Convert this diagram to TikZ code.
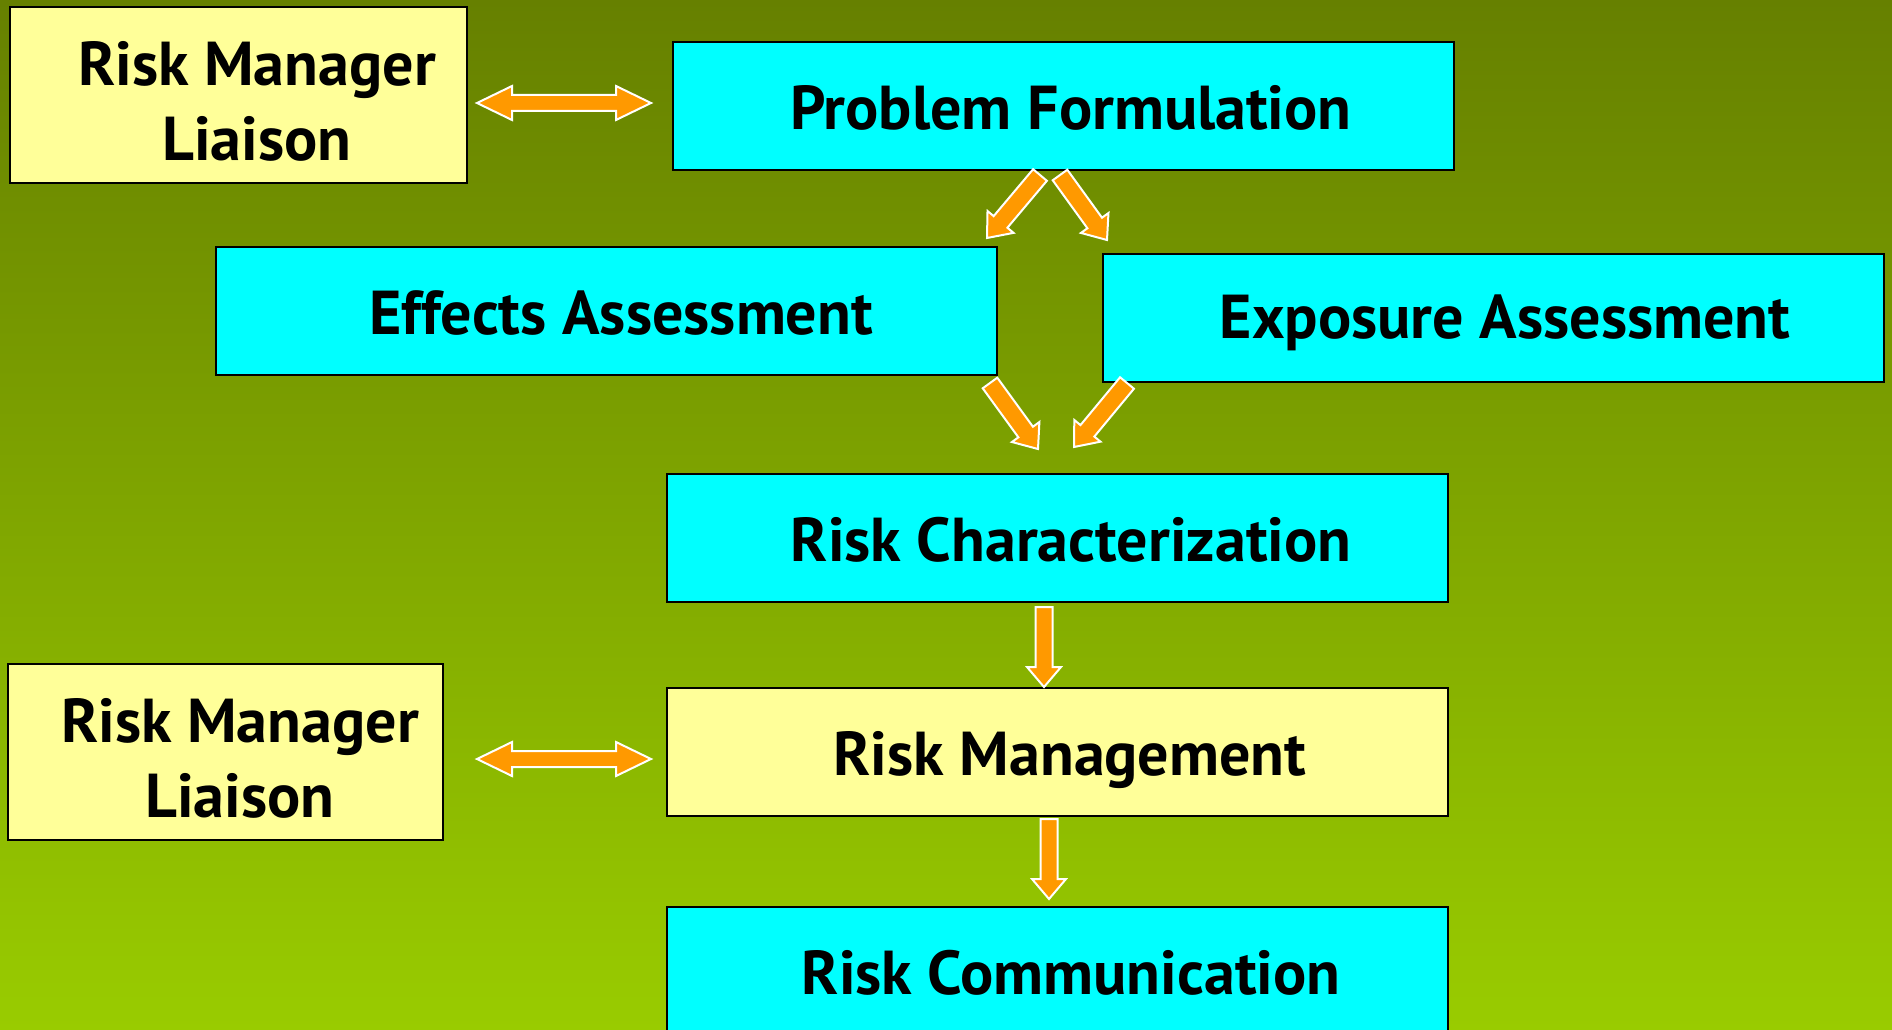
\documentclass[tikz,border=0pt]{standalone}
\usepackage{fontspec}
\setmainfont{PT Sans}
\usetikzlibrary{calc}
\definecolor{bgtop}{RGB}{102,128,0}
\definecolor{bgbot}{RGB}{153,204,0}
\definecolor{boxcyan}{RGB}{0,255,255}
\definecolor{boxyellow}{RGB}{255,255,153}
\definecolor{arroworange}{RGB}{255,153,0}
\tikzset{
  box/.style={draw=black, line width=2pt, inner sep=0pt,
    font=\fontsize{62}{75}\selectfont\bfseries},
  onebox/.style={box, text height=56pt, text depth=10pt,
    minimum width=781pt, minimum height=128pt},
  cbox/.style={onebox, fill=boxcyan},
  ybox/.style={onebox, fill=boxyellow},
  liaisonbox/.style={box, fill=boxyellow, align=center, minimum height=176pt},
  blockarrow/.style={fill=arroworange, draw=white, line width=2pt, line join=miter},
}
\newcommand\singlearr[5]{%
  \coordinate (tmpH) at ($(#2)!#5!(#1)$);
  \draw[blockarrow] ($(#1)!#3!90:(#2)$) -- ($(tmpH)!#3!90:(#2)$) -- ($(tmpH)!#4!90:(#2)$)
    -- (#2) -- ($(tmpH)!#4!-90:(#2)$) -- ($(tmpH)!#3!-90:(#2)$) -- ($(#1)!#3!-90:(#2)$) -- cycle;
}
\newcommand\doublearr[5]{%
  \coordinate (tmpA) at ($(#1)!#5!(#2)$);
  \coordinate (tmpB) at ($(#2)!#5!(#1)$);
  \draw[blockarrow] (#1) -- ($(tmpA)!#4!90:(#2)$) -- ($(tmpA)!#3!90:(#2)$)
    -- ($(tmpB)!#3!90:(#2)$) -- ($(tmpB)!#4!90:(#2)$) -- (#2)
    -- ($(tmpB)!#4!-90:(#2)$) -- ($(tmpB)!#3!-90:(#2)$)
    -- ($(tmpA)!#3!-90:(#2)$) -- ($(tmpA)!#4!-90:(#2)$) -- cycle;
}
\begin{document}
\begin{tikzpicture}[x=1pt, y=-1pt]
\useasboundingbox (0,0) rectangle (1892,1030);
\clip (0,0) rectangle (1892,1030);
\shade[top color=bgtop, bottom color=bgbot] (0,0) rectangle (1892,1030);

% boxes
\node[liaisonbox, minimum width=457pt] (rml1) at (238.5,95)
  {\rule{0pt}{56pt}\hspace*{37pt}Risk Manager\\\hspace*{37pt}Liaison};
\node[cbox] (pf) at (1063.5,106) {\hspace*{15pt}Problem Formulation};
\node[cbox] (ea) at (606.5,311) {\hspace*{29pt}Effects Assessment};
\node[cbox, text height=52pt] (exa) at (1493.5,317.5) {\hspace*{23pt}Exposure Assessment};
\node[cbox] (rc) at (1057.5,538) {\hspace*{27pt}Risk Characterization};
\node[ybox] (rm) at (1057.5,752) {\hspace*{25pt}Risk Management};
\node[cbox] (rcomm) at (1057.5,971) {\hspace*{27pt}Risk Communication};
\node[liaisonbox, minimum width=435pt] (rml2) at (225.5,752)
  {\rule{0pt}{56pt}\hspace*{29pt}Risk Manager\\\hspace*{29pt}Liaison};

% arrow end points
\coordinate (d1a) at (477,103);
\coordinate (d1b) at (651,103);
\coordinate (d2a) at (477,759);
\coordinate (d2b) at (651,759);
\coordinate (pfea1) at (1040,175);
\coordinate (pfea2) at (987,238);
\coordinate (pfexa1) at (1060,175);
\coordinate (pfexa2) at (1107,240);
\coordinate (earc1) at (990,383);
\coordinate (earc2) at (1038,449);
\coordinate (exarc1) at (1127,383);
\coordinate (exarc2) at (1074,447);
\coordinate (rcrm1) at (1044,607);
\coordinate (rcrm2) at (1044,687);
\coordinate (rmrc1) at (1049,819);
\coordinate (rmrc2) at (1049,899);

% arrows
\doublearr{d1a}{d1b}{8pt}{17pt}{35pt}
\doublearr{d2a}{d2b}{8pt}{17pt}{35pt}
\singlearr{pfea1}{pfea2}{9pt}{17pt}{21pt}
\singlearr{pfexa1}{pfexa2}{9pt}{17pt}{21pt}
\singlearr{earc1}{earc2}{9pt}{17pt}{21pt}
\singlearr{exarc1}{exarc2}{9pt}{17pt}{21pt}
\singlearr{rcrm1}{rcrm2}{8.5pt}{17pt}{20pt}
\singlearr{rmrc1}{rmrc2}{8.5pt}{17pt}{20pt}
\end{tikzpicture}
\end{document}
